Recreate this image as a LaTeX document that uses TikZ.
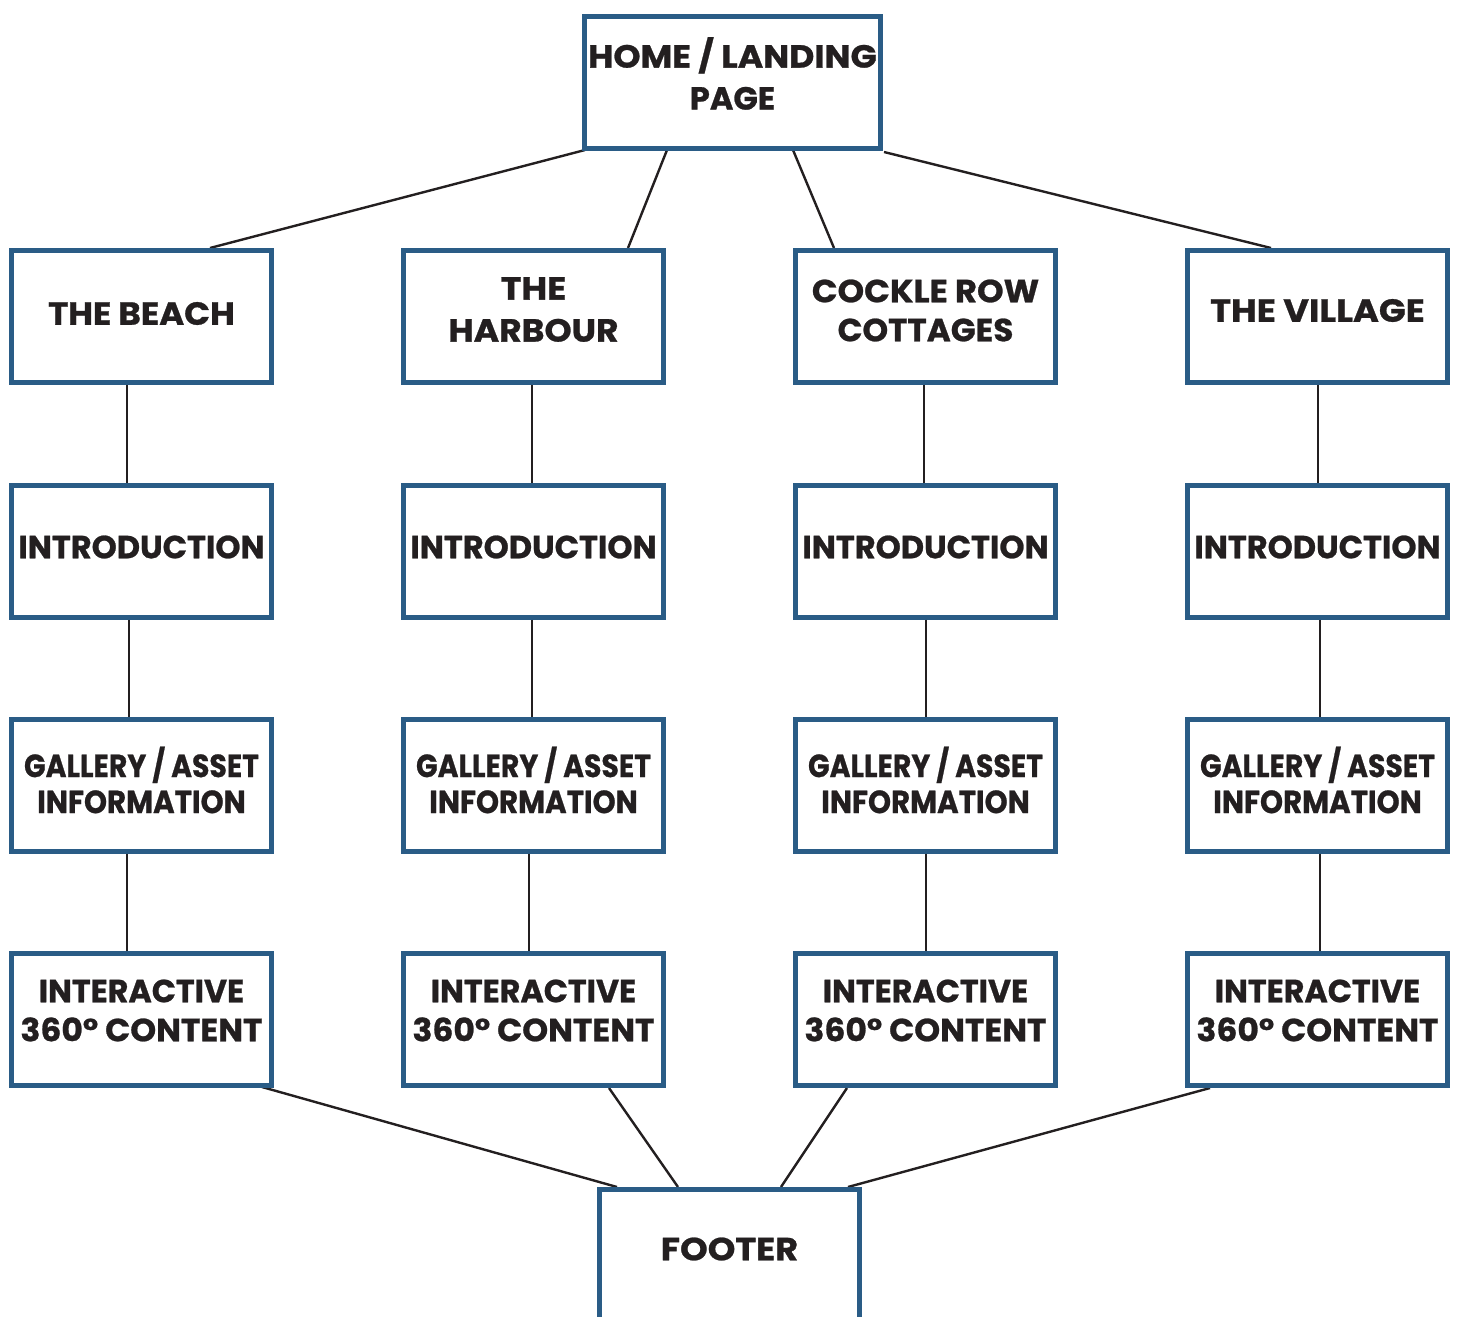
\documentclass[tikz,border=0pt]{standalone}
\usepackage{graphicx}
\usepackage{fontspec}
\setmainfont{Poppins}
\definecolor{boxblue}{HTML}{2A5C86}
\definecolor{ink}{HTML}{231F20}
\newcommand\sx[2]{\scalebox{#1}[1]{#2}}
\tikzset{
  box/.style={draw=boxblue, line width=5pt, minimum width=260pt, minimum height=132pt, inner sep=0pt, fill=white},
  lbl/.style={text=ink, font=\bfseries\fontsize{32}{39}\selectfont\addfontfeature{FakeBold=0.8}, align=center, inner sep=0pt},
  conn/.style={draw=ink, line width=2.4pt}
}
\begin{document}
\begin{tikzpicture}[x=1pt,y=-1pt]
\useasboundingbox (0,0) rectangle (1459,1317);
\begin{scope}
\clip (0,0) rectangle (1459,1317);
% connectors first
\coordinate (h1) at (585,150); \coordinate (h2) at (667,150);
\coordinate (h3) at (793,150); \coordinate (h4) at (884,152);
\coordinate (t1) at (210,248); \coordinate (t2) at (628,248);
\coordinate (t3) at (834,248); \coordinate (t4) at (1271,248);
\draw[conn] (h1) -- (t1); \draw[conn] (h2) -- (t2);
\draw[conn] (h3) -- (t3); \draw[conn] (h4) -- (t4);
\coordinate (b1) at (262,1087); \coordinate (b2) at (609,1088);
\coordinate (b3) at (847,1088); \coordinate (b4) at (1210,1088);
\coordinate (f1) at (617,1187); \coordinate (f2) at (678,1187);
\coordinate (f3) at (781,1187); \coordinate (f4) at (848,1187);
\draw[conn] (b1) -- (f1); \draw[conn] (b2) -- (f2);
\draw[conn] (b3) -- (f3); \draw[conn] (b4) -- (f4);
% boxes
\node[box, minimum width=296pt] (home) at (732.5,82) {};
\foreach \c/\x in {1/141.5,2/533.5,3/925.5,4/1317.5}{
  \node[box] (r1c\c) at (\x,316.5) {};
  \node[box] (r2c\c) at (\x,551) {};
  \node[box] (r3c\c) at (\x,785) {};
  \node[box] (r4c\c) at (\x,1019) {};
}
\node[box] (footer) at (729.5,1255) {};
% vertical connectors
\draw[conn] (r1c1.south -| 127,0) -- (r2c1.north -| 127,0);
\draw[conn] (r2c1.south -| 129,0) -- (r3c1.north -| 129,0);
\draw[conn] (r3c1.south -| 127,0) -- (r4c1.north -| 127,0);
\draw[conn] (r1c2.south -| 532,0) -- (r2c2.north -| 532,0);
\draw[conn] (r2c2.south -| 532,0) -- (r3c2.north -| 532,0);
\draw[conn] (r3c2.south -| 529,0) -- (r4c2.north -| 529,0);
\draw[conn] (r1c3.south -| 924,0) -- (r2c3.north -| 924,0);
\draw[conn] (r2c3.south -| 926,0) -- (r3c3.north -| 926,0);
\draw[conn] (r3c3.south -| 926,0) -- (r4c3.north -| 926,0);
\draw[conn] (r1c4.south -| 1318,0) -- (r2c4.north -| 1318,0);
\draw[conn] (r2c4.south -| 1320,0) -- (r3c4.north -| 1320,0);
\draw[conn] (r3c4.south -| 1320,0) -- (r4c4.north -| 1320,0);
% labels
\node[lbl, font=\bfseries\fontsize{32}{42}\selectfont\addfontfeature{FakeBold=0.8}] (homeT) at ([yshift=8.5pt]home.center) {\sx{1.08}{HOME / LANDING}\\PAGE};
\node[lbl] (r1c1T) at ([yshift=3pt]r1c1.center) {\sx{1.06}{THE BEACH}};
\node[lbl, font=\bfseries\fontsize{32}{42}\selectfont\addfontfeature{FakeBold=0.8}] (r1c2T) at ([yshift=7pt]r1c2.center) {\sx{1.1}{THE}\\\sx{1.08}{HARBOUR}};
\node[lbl] (r1c3T) at ([yshift=6pt]r1c3.center) {\sx{1.056}{COCKLE ROW}\\\sx{1.02}{COTTAGES}};
\node[lbl] (r1c4T) at ([yshift=6pt]r1c4.center) {\sx{1.1}{THE VILLAGE}};
\foreach \c in {1,2,3,4}{
  \node[lbl] (r2c\c T) at ([yshift=4pt]r2c\c.center) {INTRODUCTION};
  \node[lbl, font=\bfseries\fontsize{32}{36}\selectfont\addfontfeature{FakeBold=0.8}] (r3c\c T) at ([yshift=5pt]r3c\c.center) {\sx{0.885}{GALLERY / ASSET}\\\sx{0.916}{INFORMATION}};
  \node[lbl] (r4c\c T) at ([yshift=8.5pt]r4c\c.center) {\sx{0.99}{INTERACTIVE}\\\sx{1.03}{360° CONTENT}};
}
\node[lbl] (footerT) at ([yshift=6pt]footer.center) {\sx{1.1}{FOOTER}};
\end{scope}
\end{tikzpicture}
\end{document}
